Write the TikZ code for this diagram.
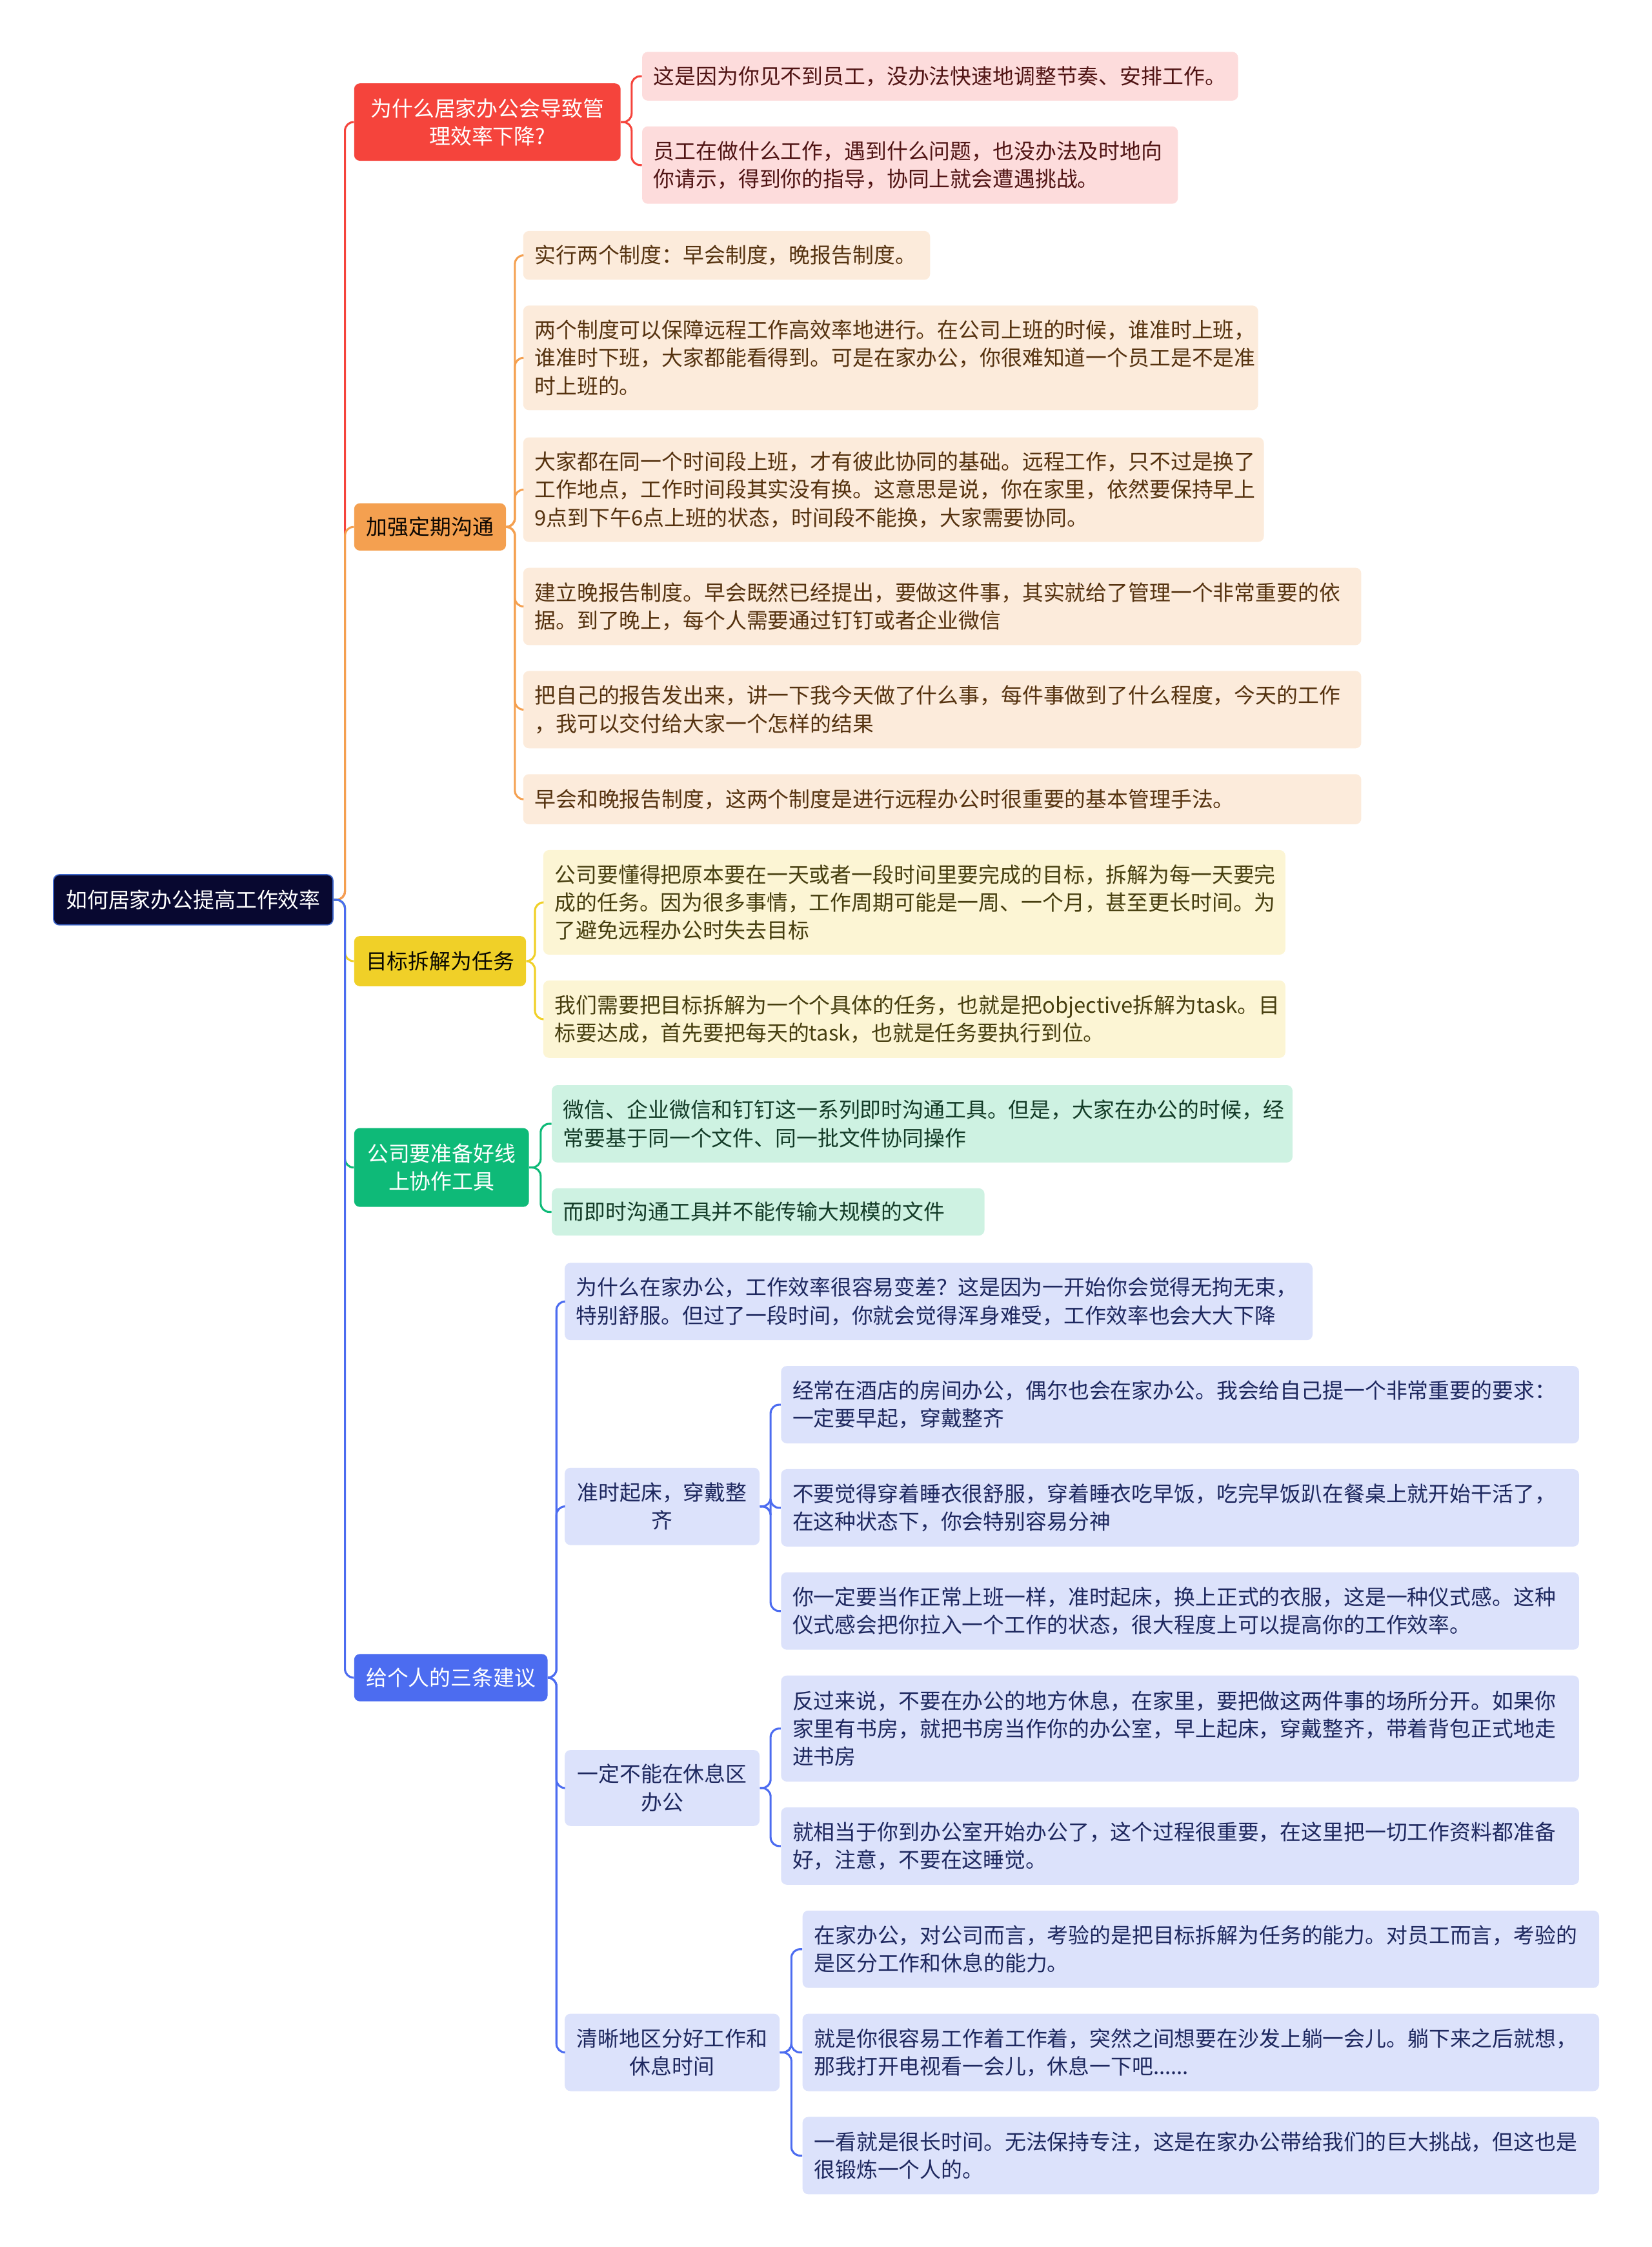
\documentclass[tikz,border=0pt]{standalone}
\usepackage{fontspec}
\setmainfont{Noto Sans CJK SC}
\begin{document}
\begin{tikzpicture}[x=1pt, y=-1pt, font=\fontsize{14.8}{19.5}\selectfont,
    box/.style={anchor=north west, rounded corners=4pt, inner xsep=8pt, inner ysep=0pt, align=left},
    sz/.style 2 args={text width=#1pt, minimum height=#2pt},
    link/.style={line width=1.4pt, rounded corners=6pt}]
	\definecolor{rootfill}{RGB}{8, 8, 48}
	\definecolor{rootline}{RGB}{60, 100, 200}
	\definecolor{redmain}{RGB}{245, 68, 60}
	\definecolor{redleaf}{RGB}{253, 220, 220}
	\definecolor{redtext}{RGB}{80, 20, 20}
	\definecolor{orgmain}{RGB}{244, 160, 80}
	\definecolor{orgleaf}{RGB}{252, 235, 219}
	\definecolor{orgtext}{RGB}{85, 50, 15}
	\definecolor{yelmain}{RGB}{240, 208, 40}
	\definecolor{yelleaf}{RGB}{252, 245, 212}
	\definecolor{yeltext}{RGB}{70, 62, 15}
	\definecolor{grnmain}{RGB}{14, 186, 120}
	\definecolor{grnleaf}{RGB}{206, 242, 226}
	\definecolor{grntext}{RGB}{20, 60, 40}
	\definecolor{blumain}{RGB}{76, 108, 240}
	\definecolor{bluleaf}{RGB}{220, 226, 251}
	\definecolor{blutext}{RGB}{30, 40, 95}
	\useasboundingbox (0,0) rectangle (1153,1568);
	\node[box, align=center, fill=rootfill, draw=rootline, line width=0.8pt, text=white, sz={179}{35}] (root) at (37,610) {如何居家办公提高工作效率};
	\node[box, align=center, fill=redmain, text=white, sz={170}{54}] (why) at (247,58) {为什么居家办公会导致管\\理效率下降?};
	\node[box, align=center, fill=orgmain, text=black!85!orgtext, sz={90}{33}] (talk) at (247,351) {加强定期沟通};
	\node[box, align=center, fill=yelmain, text=black!85!yeltext, sz={104}{35}] (goal) at (247,653) {目标拆解为任务};
	\node[box, align=center, fill=grnmain, text=white, sz={106}{55}] (tool) at (247,787) {公司要准备好线\\上协作工具};
	\node[box, align=center, fill=blumain, text=white, sz={119}{33}] (tips) at (247,1154) {给个人的三条建议};
	\node[box, fill=redleaf, text=redtext, sz={400}{34}] (why1) at (448,36) {这是因为你见不到员工，没办法快速地调整节奏、安排工作。};
	\node[box, fill=redleaf, text=redtext, sz={358}{54}] (why2) at (448,88) {员工在做什么工作，遇到什么问题，也没办法及时地向\\你请示，得到你的指导，协同上就会遭遇挑战。};
	\node[box, fill=orgleaf, text=orgtext, sz={268}{34}] (talk1) at (365,161) {实行两个制度：早会制度，晚报告制度。};
	\node[box, fill=orgleaf, text=orgtext, sz={497}{73}] (talk2) at (365,213) {两个制度可以保障远程工作高效率地进行。在公司上班的时候，谁准时上班，\\谁准时下班，大家都能看得到。可是在家办公，你很难知道一个员工是不是准\\时上班的。};
	\node[box, fill=orgleaf, text=orgtext, sz={501}{73}] (talk3) at (365,305) {大家都在同一个时间段上班，才有彼此协同的基础。远程工作，只不过是换了\\工作地点，工作时间段其实没有换。这意思是说，你在家里，依然要保持早上\\9点到下午6点上班的状态，时间段不能换，大家需要协同。};
	\node[box, fill=orgleaf, text=orgtext, sz={569}{54}] (talk4) at (365,396) {建立晚报告制度。早会既然已经提出，要做这件事，其实就给了管理一个非常重要的依\\据。到了晚上，每个人需要通过钉钉或者企业微信};
	\node[box, fill=orgleaf, text=orgtext, sz={569}{54}] (talk5) at (365,468) {把自己的报告发出来，讲一下我今天做了什么事，每件事做到了什么程度，今天的工作\\，我可以交付给大家一个怎样的结果};
	\node[box, fill=orgleaf, text=orgtext, sz={569}{35}] (talk6) at (365,540) {早会和晚报告制度，这两个制度是进行远程办公时很重要的基本管理手法。};
	\node[box, fill=yelleaf, text=yeltext, sz={502}{73}] (goal1) at (379,593) {公司要懂得把原本要在一天或者一段时间里要完成的目标，拆解为每一天要完\\成的任务。因为很多事情，工作周期可能是一周、一个月，甚至更长时间。为\\了避免远程办公时失去目标};
	\node[box, fill=yelleaf, text=yeltext, sz={502}{54}] (goal2) at (379,684) {我们需要把目标拆解为一个个具体的任务，也就是把objective拆解为task。目\\标要达成，首先要把每天的task，也就是任务要执行到位。};
	\node[box, fill=grnleaf, text=grntext, sz={501}{54}] (tool1) at (385,757) {微信、企业微信和钉钉这一系列即时沟通工具。但是，大家在办公的时候，经\\常要基于同一个文件、同一批文件协同操作};
	\node[box, fill=grnleaf, text=grntext, sz={286}{33}] (tool2) at (385,829) {而即时沟通工具并不能传输大规模的文件};
	\node[box, fill=bluleaf, text=blutext, sz={506}{54}] (tips1) at (394,881) {为什么在家办公，工作效率很容易变差？这是因为一开始你会觉得无拘无束，\\特别舒服。但过了一段时间，你就会觉得浑身难受，工作效率也会大大下降};
	\node[box, align=center, fill=bluleaf, text=blutext, sz={120}{54}] (tips2) at (394,1024) {准时起床，穿戴整\\齐};
	\node[box, align=center, fill=bluleaf, text=blutext, sz={120}{53}] (tips3) at (394,1221) {一定不能在休息区\\办公};
	\node[box, align=center, fill=bluleaf, text=blutext, sz={134}{54}] (tips4) at (394,1405) {清晰地区分好工作和\\休息时间};
	\node[box, fill=bluleaf, text=blutext, sz={541}{54}] (dress1) at (545,953) {经常在酒店的房间办公，偶尔也会在家办公。我会给自己提一个非常重要的要求：\\一定要早起，穿戴整齐};
	\node[box, fill=bluleaf, text=blutext, sz={541}{54}] (dress2) at (545,1025) {不要觉得穿着睡衣很舒服，穿着睡衣吃早饭，吃完早饭趴在餐桌上就开始干活了，\\在这种状态下，你会特别容易分神};
	\node[box, fill=bluleaf, text=blutext, sz={541}{54}] (dress3) at (545,1097) {你一定要当作正常上班一样，准时起床，换上正式的衣服，这是一种仪式感。这种\\仪式感会把你拉入一个工作的状态，很大程度上可以提高你的工作效率。};
	\node[box, fill=bluleaf, text=blutext, sz={541}{74}] (rest1) at (545,1169) {反过来说，不要在办公的地方休息，在家里，要把做这两件事的场所分开。如果你\\家里有书房，就把书房当作你的办公室，早上起床，穿戴整齐，带着背包正式地走\\进书房};
	\node[box, fill=bluleaf, text=blutext, sz={541}{54}] (rest2) at (545,1261) {就相当于你到办公室开始办公了，这个过程很重要，在这里把一切工作资料都准备\\好，注意，不要在这睡觉。};
	\node[box, fill=bluleaf, text=blutext, sz={540}{54}] (split1) at (560,1333) {在家办公，对公司而言，考验的是把目标拆解为任务的能力。对员工而言，考验的\\是区分工作和休息的能力。};
	\node[box, fill=bluleaf, text=blutext, sz={540}{54}] (split2) at (560,1405) {就是你很容易工作着工作着，突然之间想要在沙发上躺一会儿。躺下来之后就想，\\那我打开电视看一会儿，休息一下吧......};
	\node[box, fill=bluleaf, text=blutext, sz={540}{54}] (split3) at (560,1477) {一看就是很长时间。无法保持专注，这是在家办公带给我们的巨大挑战，但这也是\\很锻炼一个人的。};
	\draw[link, redmain] (root.east) -- ++(8,0) |- (why.west);
	\draw[link, orgmain] (root.east) -- ++(8,0) |- (talk.west);
	\draw[link, yelmain] (root.east) -- ++(8,0) |- (goal.west);
	\draw[link, grnmain] (root.east) -- ++(8,0) |- (tool.west);
	\draw[link, blumain] (root.east) -- ++(8,0) |- (tips.west);
	\foreach \c in {why1,why2} \draw[link, redmain] (why.east) -- ++(7.5,0) |- (\c.west);
	\foreach \c in {talk1,talk2,talk3,talk4,talk5,talk6} \draw[link, orgmain] (talk.east) -- ++(6,0) |- (\c.west);
	\foreach \c in {goal1,goal2} \draw[link, yelmain] (goal.east) -- ++(6,0) |- (\c.west);
	\foreach \c in {tool1,tool2} \draw[link, grnmain] (tool.east) -- ++(8,0) |- (\c.west);
	\foreach \c in {tips1,tips2,tips3,tips4} \draw[link, blumain] (tips.east) -- ++(6,0) |- (\c.west);
	\foreach \c in {dress1,dress2,dress3} \draw[link, blumain] (tips2.east) -- ++(7.5,0) |- (\c.west);
	\foreach \c in {rest1,rest2} \draw[link, blumain] (tips3.east) -- ++(7.5,0) |- (\c.west);
	\foreach \c in {split1,split2,split3} \draw[link, blumain] (tips4.east) -- ++(8,0) |- (\c.west);
\end{tikzpicture}
\end{document}
